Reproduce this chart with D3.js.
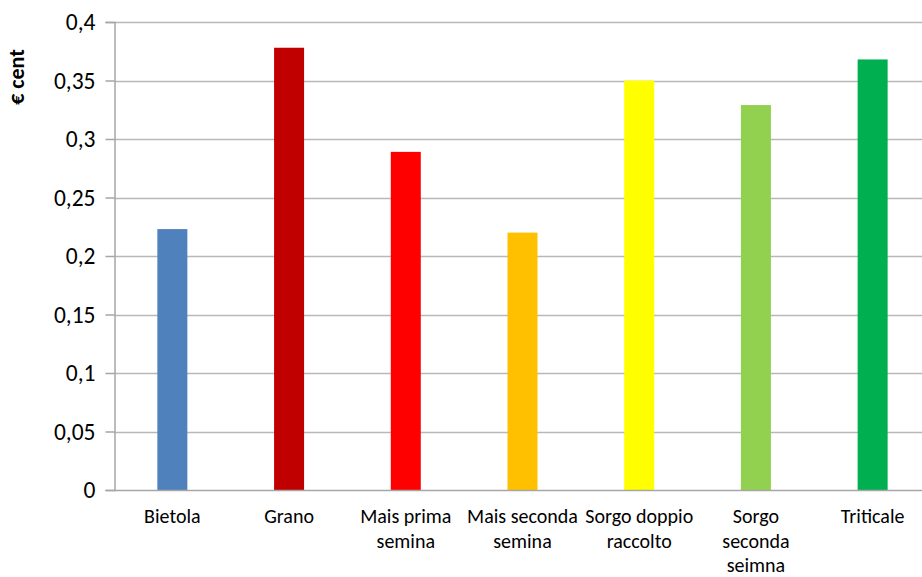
<!DOCTYPE html>
<html>
<head>
<meta charset="utf-8">
<script src="https://cdn.jsdelivr.net/npm/d3@7"></script>
<style>
  html, body { margin: 0; padding: 0; background: #fff; }
  svg { display: block; }
</style>
</head>
<body>
<svg id="chart" width="922" height="577"></svg>
<script>
// Cost per crop, in € cent
const categories = ["Bietola", "Grano", "Mais prima semina", "Mais seconda semina",
                    "Sorgo doppio raccolto", "Sorgo seconda seimna", "Triticale"];
const labelLines = [["Bietola"], ["Grano"], ["Mais prima", "semina"], ["Mais seconda", "semina"],
                    ["Sorgo doppio", "raccolto"], ["Sorgo", "seconda", "seimna"], ["Triticale"]];
const values = [0.223, 0.378, 0.289, 0.22, 0.35, 0.329, 0.368];
const colors = ["#4F81BD", "#C00000", "#FF0000", "#FFC000", "#FFFF00", "#92D050", "#00B050"];
const yTicks = [0, 0.05, 0.1, 0.15, 0.2, 0.25, 0.3, 0.35, 0.4];
const yTickLabels = ["0", "0,05", "0,1", "0,15", "0,2", "0,25", "0,3", "0,35", "0,4"];
const yTitle = "€ cent";

const svg = d3.select("#chart");
const font = "Carlito, Calibri, Lato, 'Open Sans', 'Liberation Sans', sans-serif";

const x0 = 114, x1 = 931, yTop = 22, yBottom = 490;

const x = d3.scaleBand().domain(categories).range([x0, x1]).paddingInner(0).paddingOuter(0);
const y = d3.scaleLinear().domain([0, 0.4]).range([yBottom, yTop]);
const barW = 30;

// horizontal gridlines
svg.append("g").selectAll("line").data(yTicks.slice(1)).join("line")
  .attr("x1", x0).attr("x2", 922)
  .attr("y1", d => Math.round(y(d)) + 0.5).attr("y2", d => Math.round(y(d)) + 0.5)
  .attr("stroke", "#b8b8b8").attr("stroke-width", 1.5);

// y axis
const yAxis = d3.axisLeft(y).tickValues(yTicks).tickSize(9).tickPadding(10)
  .tickFormat((d, i) => yTickLabels[i]);
const gy = svg.append("g").attr("transform", `translate(${x0 + 0.5},0)`).call(yAxis);
gy.select(".domain").attr("stroke", "#a6a6a6").attr("stroke-width", 1.5);
gy.selectAll(".tick line").attr("stroke", "#a6a6a6").attr("stroke-width", 1.5);
gy.selectAll(".tick text").attr("font-family", font).attr("font-size", 23.5).attr("fill", "#000");

// bars
svg.append("g").selectAll("rect").data(values).join("rect")
  .attr("x", (d, i) => x(categories[i]) + x.bandwidth() / 2 - barW / 2)
  .attr("width", barW)
  .attr("y", d => y(d))
  .attr("height", d => yBottom - y(d))
  .attr("fill", (d, i) => colors[i]);

// x axis baseline
svg.append("line").attr("x1", x0).attr("x2", 922)
  .attr("y1", yBottom + 0.5).attr("y2", yBottom + 0.5)
  .attr("stroke", "#a6a6a6").attr("stroke-width", 1.5);

// category labels, wrapped onto several lines
const lbl = svg.append("g").selectAll("text").data(categories).join("text")
  .attr("x", d => x(d) + x.bandwidth() / 2)
  .attr("y", 523)
  .attr("text-anchor", "middle")
  .attr("font-family", font).attr("font-size", 20).attr("fill", "#000");
lbl.each(function(d, i) {
  d3.select(this).selectAll("tspan").data(labelLines[i]).join("tspan")
    .attr("x", x(d) + x.bandwidth() / 2)
    .attr("dy", (t, j) => j === 0 ? 0 : 24.5)
    .text(t => t);
});

// y axis title
svg.append("text")
  .attr("transform", "translate(24,77) rotate(-90)")
  .attr("text-anchor", "middle")
  .attr("font-family", font).attr("font-size", 22).attr("font-weight", "bold")
  .text(yTitle);
</script>
</body>
</html>
